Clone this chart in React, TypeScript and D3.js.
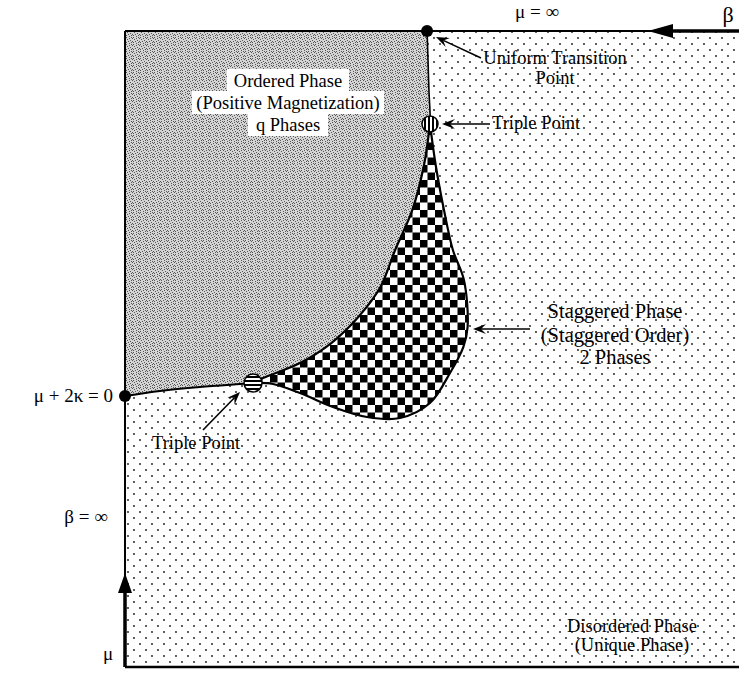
import React from "react";
import * as d3 from "d3";

// ---- Data (plot units: x 0..100 left→right, y 0..100 bottom→top) ----
const orderedDisorderedBoundary: [number, number][] = [
  [49.2, 100], [49.35, 95.4], [49.5, 90.7], [49.7, 86.6], [49.67, 85.38],
];
const staggeredLeftBoundary: [number, number][] = [
  [49.67, 85.38], [48.7, 78.93], [46.8, 71.86], [44.0, 65.57], [41.6, 59.75],
  [38.0, 55.03], [33.6, 50.94], [28.5, 47.8], [22.48, 45.44], [20.85, 44.65],
];
const staggeredRightBoundary: [number, number][] = [
  [49.67, 85.38], [50.6, 78.93], [51.95, 71.86], [53.4, 65.57], [55.2, 60.85],
  [55.8, 53.46], [55.1, 50.31], [52.93, 46.23], [49.67, 41.51], [44.79, 39.15],
  [39.41, 39.31], [33.88, 40.88], [28.5, 43.08], [24.1, 44.5], [20.85, 44.65],
];
const orderedLowerBoundary: [number, number][] = [
  [0, 42.61], [5.7, 43.4], [12.21, 44.03], [18.73, 44.5], [20.85, 44.65],
];
const uniformPoint: [number, number] = [49.2, 100];
const tripleTop: [number, number] = [49.67, 85.38];
const tripleBottom: [number, number] = [20.85, 44.65];
const zeroPoint: [number, number] = [0, 42.61];

const orderedLabel = ["Ordered Phase", "(Positive Magnetization)", "q Phases"];
const staggeredLabel = ["Staggered Phase", "(Staggered Order)", "2 Phases"];
const disorderedLabel = ["Disordered Phase", "(Unique Phase)"];
const uniformLabel = ["Uniform Transition", "Point"];

const W = 739, H = 674;
const FONT = "'Liberation Serif', 'Times New Roman', serif";

export default function App() {
  const x = d3.scaleLinear().domain([0, 100]).range([125, 739]);
  const y = d3.scaleLinear().domain([0, 100]).range([667, 31]);
  const line = d3.line<[number, number]>().x(d => x(d[0])).y(d => y(d[1])).curve(d3.curveCatmullRom);
  const seg = (pts: [number, number][], first: boolean) => {
    const s = line(pts) || "";
    return first ? s : "L" + s.slice(1);
  };
  const orderedPath =
    `M${x(0)},${y(100)}` +
    seg(orderedDisorderedBoundary, false) +
    seg(staggeredLeftBoundary, false) +
    seg([...orderedLowerBoundary].reverse(), false) + "Z";
  const staggeredPath =
    seg(staggeredLeftBoundary, true) + seg([...staggeredRightBoundary].reverse(), false) + "Z";

  const greyPix = [[0,0],[3,1],[6,3],[1,4],[4,5],[2,6],[5,0],[6,6],[0,2],[3,3],[5,2]];

  const arrow = (x1: number, y1: number, x2: number, y2: number, key: string) => {
    const ang = Math.atan2(y2 - y1, x2 - x1);
    const L = 13, Wd = 5, notch = 8;
    const bx = x2 - L * Math.cos(ang), by = y2 - L * Math.sin(ang);
    const nx = x2 - notch * Math.cos(ang), ny = y2 - notch * Math.sin(ang);
    const px = -Math.sin(ang) * Wd, py = Math.cos(ang) * Wd;
    return (
      <g key={key}>
        <line x1={x1} y1={y1} x2={nx} y2={ny} stroke="#000" strokeWidth={1.6} />
        <path d={`M${x2},${y2}L${bx + px},${by + py}L${nx},${ny}L${bx - px},${by - py}Z`} fill="#000" />
      </g>
    );
  };

  return (
    <svg width={W} height={H} style={{ position: "absolute", left: 0, top: 0, background: "#fff" }} fontFamily={FONT}>
      <defs>
        <pattern id="dots" width={12} height={12} patternUnits="userSpaceOnUse">
          <rect width={12} height={12} fill="#fff" />
          <circle cx={2} cy={2} r={0.9} fill="#111" />
          <circle cx={8} cy={8} r={0.9} fill="#111" />
        </pattern>
        <pattern id="grey" width={7} height={7} patternUnits="userSpaceOnUse">
          <rect width={7} height={7} fill="#d4d4d4" />
          {greyPix.map(([a, b], i) => <rect key={i} x={a} y={b} width={1} height={1} fill="#555" />)}
        </pattern>
        <pattern id="checker" width={15} height={15} patternUnits="userSpaceOnUse">
          <rect width={15} height={15} fill="#fff" />
          <rect x={0} y={0} width={7.5} height={7.5} fill="#000" />
          <rect x={7.5} y={7.5} width={7.5} height={7.5} fill="#000" />
        </pattern>
        <pattern id="vstripe" width={4} height={4} patternUnits="userSpaceOnUse">
          <rect width={4} height={4} fill="#fff" />
          <rect x={0} y={0} width={2} height={4} fill="#000" />
        </pattern>
        <pattern id="hstripe" width={4} height={4} patternUnits="userSpaceOnUse">
          <rect width={4} height={4} fill="#fff" />
          <rect x={0} y={0} width={4} height={2} fill="#000" />
        </pattern>
      </defs>

      {/* disordered background */}
      <rect x={x(0)} y={y(100)} width={x(100) - x(0)} height={y(0) - y(100)} fill="url(#dots)" />
      {/* ordered */}
      <path d={orderedPath} fill="url(#grey)" />
      {/* staggered */}
      <path d={staggeredPath} fill="url(#checker)" stroke="#000" strokeWidth={2.2} />
      {/* boundaries */}
      <path d={line(orderedDisorderedBoundary) || ""} fill="none" stroke="#000" strokeWidth={1.6} />
      <path d={line(orderedLowerBoundary) || ""} fill="none" stroke="#000" strokeWidth={2} />

      {/* frame */}
      <line x1={x(0)} y1={y(100)} x2={x(0)} y2={y(0)} stroke="#000" strokeWidth={2} />
      <line x1={x(0)} y1={y(0)} x2={x(100)} y2={y(0)} stroke="#000" strokeWidth={2.5} />
      <line x1={x(0)} y1={y(100)} x2={x(100)} y2={y(100)} stroke="#000" strokeWidth={2} />
      {/* beta axis arrow (top, pointing left) */}
      <line x1={672} y1={y(100)} x2={x(100)} y2={y(100)} stroke="#000" strokeWidth={3.5} />
      <path d={`M648,${y(100)}L673,${y(100) - 7}L673,${y(100) + 7}Z`} fill="#000" />
      {/* mu axis arrow (left, pointing up) */}
      <line x1={x(0)} y1={592} x2={x(0)} y2={y(0)} stroke="#000" strokeWidth={3.5} />
      <path d={`M${x(0)},573L${x(0) - 7},593L${x(0) + 7},593Z`} fill="#000" />

      {/* points */}
      <circle cx={x(uniformPoint[0])} cy={y(uniformPoint[1])} r={6} fill="#000" />
      <circle cx={x(zeroPoint[0])} cy={y(zeroPoint[1])} r={6} fill="#000" />
      <circle cx={x(tripleTop[0])} cy={y(tripleTop[1])} r={8} fill="url(#vstripe)" stroke="#000" strokeWidth={1.5} />
      <circle cx={x(tripleBottom[0])} cy={y(tripleBottom[1])} r={9} fill="url(#hstripe)" stroke="#000" strokeWidth={1.5} />

      {/* ordered label with white boxes */}
      {orderedLabel.map((t, i) => {
        const widths = [122, 192, 80];
        const cx = 288, base = 87 + i * 22;
        return (
          <g key={t}>
            <rect x={cx - widths[i] / 2} y={base - 18} width={widths[i]} height={23} fill="#fff" />
            <text x={cx} y={base} textAnchor="middle" fontSize={18.5}>{t}</text>
          </g>
        );
      })}

      {/* staggered label */}
      {staggeredLabel.map((t, i) => (
        <text key={t} x={615} y={[318, 342, 364][i]} textAnchor="middle" fontSize={20.5}>{t}</text>
      ))}
      {arrow(530, 329, 473, 329, "sa")}

      {/* disordered label */}
      {disorderedLabel.map((t, i) => (
        <text key={t} x={632} y={[632, 651][i]} textAnchor="middle" fontSize={18.5}>{t}</text>
      ))}

      {/* uniform transition */}
      {uniformLabel.map((t, i) => (
        <text key={t} x={555} y={[64, 84][i]} textAnchor="middle" fontSize={18.5}>{t}</text>
      ))}
      {arrow(481, 58, 436, 37, "ua")}

      {/* triple points */}
      <text x={492} y={129} fontSize={18.5}>Triple Point</text>
      {arrow(490, 124, 442, 124, "ta")}
      <text x={152} y={449} fontSize={18.5}>Triple Point</text>
      {arrow(203, 430, 240, 392, "tb")}

      {/* axis labels */}
      <text x={537} y={18} textAnchor="middle" fontSize={19}>μ = ∞</text>
      <text x={728} y={22} textAnchor="middle" fontSize={22}>β</text>
      <text x={113} y={402} textAnchor="end" fontSize={19}>μ + 2κ  = 0</text>
      <text x={86} y={523} textAnchor="middle" fontSize={19}>β = ∞</text>
      <text x={108} y={660} textAnchor="middle" fontSize={19}>μ</text>
    </svg>
  );
}
